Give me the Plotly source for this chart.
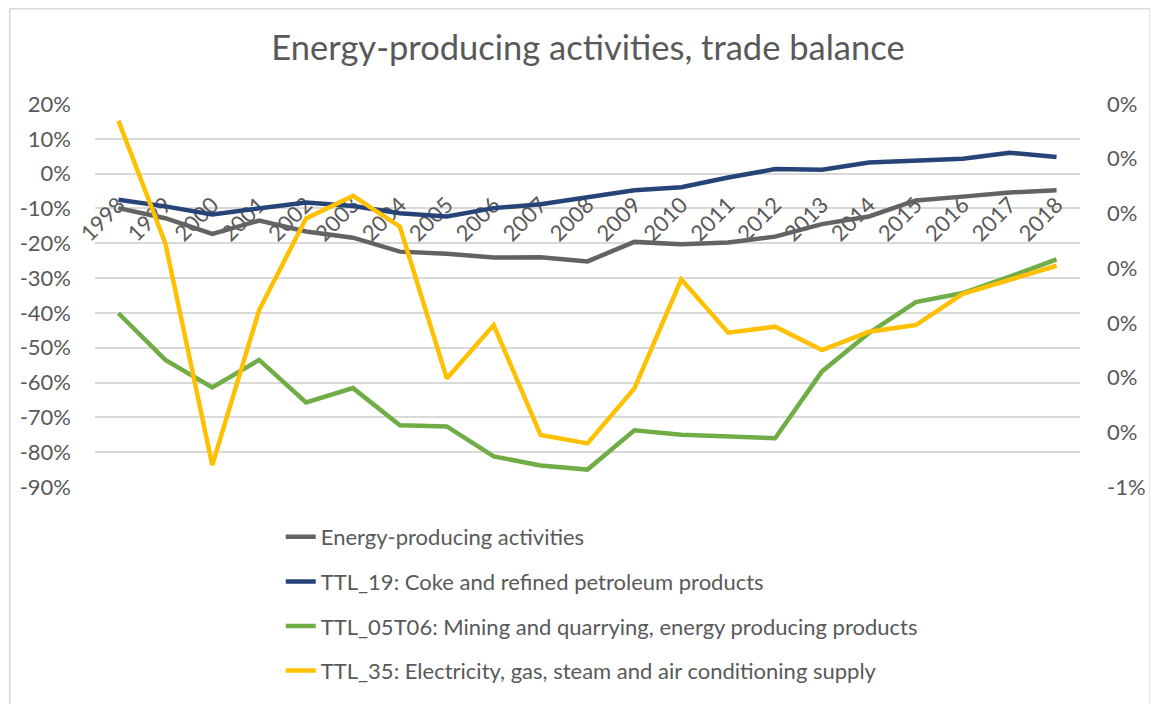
import plotly.graph_objects as go

# ---- data ----
years = [str(y) for y in range(1998, 2019)]
energy_total = [-0.099, -0.128, -0.173, -0.135, -0.166, -0.184, -0.224, -0.230, -0.241, -0.240, -0.252,
                -0.196, -0.203, -0.198, -0.181, -0.145, -0.123, -0.077, -0.066, -0.054, -0.048]
coke_petroleum = [-0.075, -0.094, -0.117, -0.099, -0.083, -0.093, -0.114, -0.123, -0.099, -0.088, -0.068,
                  -0.048, -0.039, -0.011, 0.013, 0.011, 0.032, 0.037, 0.043, 0.060, 0.048]
mining = [-0.401, -0.535, -0.614, -0.535, -0.657, -0.616, -0.723, -0.726, -0.812, -0.838, -0.850,
          -0.737, -0.750, -0.755, -0.760, -0.568, -0.458, -0.369, -0.343, -0.296, -0.246]
electricity = [0.001695, -0.000547, -0.00460, -0.001766, -0.00009, 0.00032, -0.000243, -0.003015, -0.00204,
               -0.00405, -0.004203, -0.003198, -0.001205, -0.00218, -0.00207, -0.002497, -0.002163, -0.00204,
               -0.00147, -0.001218, -0.000956]

series_names = ["Energy-producing activities",
                "TTL_19: Coke and refined petroleum products",
                "TTL_05T06: Mining and quarrying, energy producing products",
                "TTL_35: Electricity, gas, steam and air conditioning supply"]
series_colors = ["#636363", "#264478", "#70AD47", "#FFC000"]

left_tickvals = [0.2, 0.1, 0.0, -0.1, -0.2, -0.3, -0.4, -0.5, -0.6, -0.7, -0.8, -0.9]
left_ticktext = ["20%", "10%", "0%", "-10%", "-20%", "-30%", "-40%", "-50%", "-60%", "-70%", "-80%", "-90%"]
right_tickvals = [0.002, 0.001, 0.0, -0.001, -0.002, -0.003, -0.004, -0.005]
right_ticktext = ["0%", "0%", "0%", "0%", "0%", "0%", "0%", "-1%"]

title_text = "Energy-producing activities, trade balance"

# ---- figure ----
FONT = "Lato"
TXT = "#595959"
GRID = "#D9D9D9"

OFF = 8  # page offset of the figure inside the browser window
W, H = 1158 - OFF, 704 - OFF
ML, MT = 95 - OFF, 104 - OFF
PW, PH = 997, 383
MR, MB = W - ML - PW, H - MT - PH

y_lo, y_hi = -0.9, 0.2
y2_lo, y2_hi = -0.005, 0.002

fig = go.Figure()
for name, vals, col, ax in zip(series_names, [energy_total, coke_petroleum, mining, electricity],
                                series_colors, ["y", "y", "y", "y2"]):
    fig.add_trace(go.Scatter(x=years, y=vals, name=name, mode="lines", yaxis=ax,
                             legendgroup=name,
                             line=dict(color=col, width=4.5)))

fig.update_layout(
    width=W, height=H,
    margin=dict(l=ML, r=MR, t=MT, b=MB),
    paper_bgcolor="white", plot_bgcolor="white",
    font=dict(family=FONT, color=TXT, size=22),
    title=dict(text=title_text, x=(588 - OFF) / W, xref="container", xanchor="center",
               y=1 - (48 - OFF) / H, yref="container", yanchor="middle",
               font=dict(family=FONT, size=34.5, color=TXT)),
    xaxis=dict(type="category", range=[-0.5, len(years) - 0.5], anchor="free",
               position=(0 - y_lo) / (y_hi - y_lo),
               showgrid=False, showline=True, linecolor=GRID, linewidth=1.5,
               ticks="", tickangle=-45, tickfont=dict(size=22, color=TXT),
               layer="below traces", ticklabelstandoff=9),
    yaxis=dict(range=[y_lo, y_hi], tickvals=left_tickvals, ticktext=left_ticktext,
               showgrid=True, gridcolor=GRID, gridwidth=1.5, zeroline=False,
               showline=False, ticks="", ticklabelstandoff=23,
               tickfont=dict(size=22, color=TXT)),
    yaxis2=dict(range=[y2_lo, y2_hi], overlaying="y", side="right",
                tickvals=right_tickvals, ticktext=right_ticktext,
                showgrid=False, zeroline=False, showline=False, ticks="",
                ticklabelstandoff=26, tickfont=dict(size=22, color=TXT)),
    showlegend=True,
    legend=dict(orientation="v", x=(283 - OFF - ML) / PW, xanchor="left",
                y=-(516 - OFF - (MT + PH)) / PH, yanchor="top",
                font=dict(size=22, color=TXT), tracegroupgap=13,
                bgcolor="rgba(0,0,0,0)", traceorder="grouped"),
    shapes=[dict(type="rect", xref="paper", yref="paper",
                 x0=(0.75 - ML) / PW, x1=(W + 5 - ML) / PW,
                 y0=-(H + 5 - MT - PH) / PH, y1=(MT + PH - 0.75) / PH,
                 line=dict(color=GRID, width=1.5), layer="below")],
)

fig.write_html("out.html")
